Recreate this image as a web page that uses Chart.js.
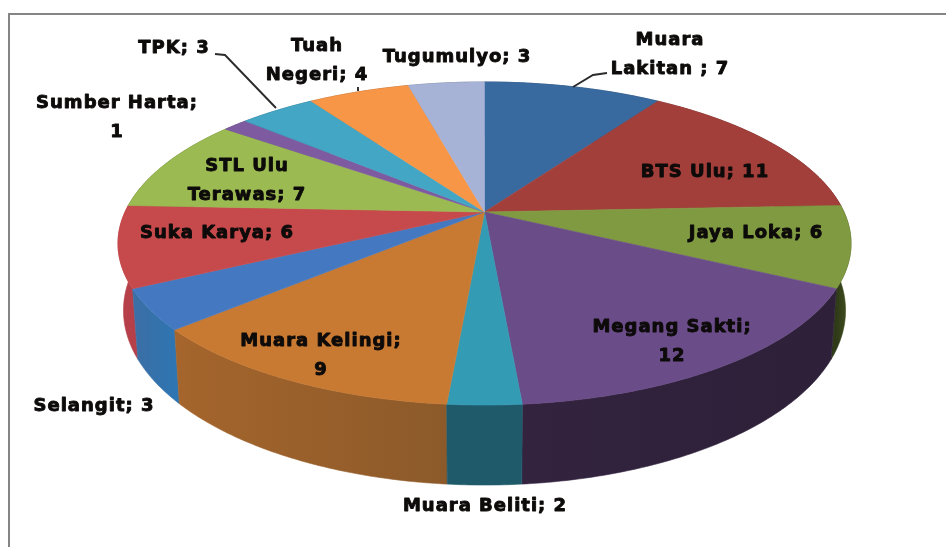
<!DOCTYPE html>
<html>
<head>
<meta charset="utf-8">
<style>
html,body{margin:0;padding:0;background:#fff;overflow:hidden}
#wrap{position:relative;width:946px;height:547px}
#frame{position:absolute;left:8px;top:13px;right:0;bottom:-4px;border-top:2px solid #858585;border-left:2px solid #858585}
canvas{position:absolute;left:0;top:0;filter:blur(0.7px)}
</style>
<script src="https://cdn.jsdelivr.net/npm/chart.js@4"></script>
</head>
<body>
<div id="wrap"><div id="frame"></div><canvas id="c" width="946" height="547"></canvas></div>
<script>
const categories = ['Muara Lakitan ','BTS Ulu','Jaya Loka','Megang Sakti','Muara Beliti','Muara Kelingi','Selangit','Suka Karya','STL Ulu Terawas','Sumber Harta','TPK','Tuah Negeri','Tugumulyo'];
const values = [7,11,6,12,2,9,3,6,7,1,3,4,3];
const topColors = ['#396A9F','#A23F3B','#7F9A40','#6A4C88','#349BB5','#C97A32','#4479C2','#C64A4C','#9BBB52','#7E5BA0','#42A6C4','#F79646','#A6B2D6'];
const wallLeft  = ['#24405F','#622725','#2F3A18','#33233F','#1F5A6B','#A5652C','#3C6EA4','#B5404A','#5E7232','#4C3761','#286476','#95592A','#646B81'];
const wallRight = ['#24405F','#622725','#46551F','#2D2038','#1F5A6B','#8C5A2A','#2F75B2','#B5404A','#5E7232','#4C3761','#286476','#95592A','#646B81'];
const wrapAfter = ['Muara','','','Megang Sakti;','','Muara Kelingi;','','','STL Ulu','Sumber Harta;','','Tuah',''];
const labelCentres = [[670,40],[705,172],[756,233],[672,327],[485,506],[321,341],[94,406],[217,233],[247,166],[117,103],[174,48],[317,46],[457,57]];
const lineGap = 29;
const leaders = [[[607,73],[593,75],[573,87]],[[215,54],[225,55],[276,108]],[[358,87],[358,91]]];

const view = {cx:484.5, cy:212, rx:359.5, ry:155.4, k:0.195, depth:64.4, baseScale:0.985};

function project(a, down){
  const u=Math.cos(a), v=Math.sin(a), w=1-view.k*v, s=down?view.baseScale:1;
  return [view.cx+s*view.rx*u/w, view.cy+view.ry*v/w+(down?view.depth/w:0)];
}
function arcPts(a0,a1,down){
  const n=Math.max(2,Math.ceil((a1-a0)/0.01)), p=[];
  for(let i=0;i<=n;i++) p.push(project(a0+(a1-a0)*i/n,down));
  return p;
}
const pie3d = {
  id:'pie3d',
  beforeDatasetsDraw(chart){
    const ctx=chart.ctx, arcs=chart.getDatasetMeta(0).data;
    // side walls, far ones first
    const order=arcs.map((e,i)=>i).sort((p,q)=>{
      const m=e=>Math.sin((e.startAngle+e.endAngle)/2);
      return m(arcs[p])-m(arcs[q]);
    });
    order.forEach(i=>{
      const e=arcs[i], top=arcPts(e.startAngle,e.endAngle,false), bot=arcPts(e.startAngle,e.endAngle,true).reverse();
      const xs=top.map(p=>p[0]), g=ctx.createLinearGradient(Math.min(...xs),0,Math.max(...xs),0);
      g.addColorStop(0,wallLeft[i]); g.addColorStop(1,wallRight[i]);
      ctx.beginPath();
      top.concat(bot).forEach((p,j)=>j?ctx.lineTo(p[0],p[1]):ctx.moveTo(p[0],p[1]));
      ctx.closePath(); ctx.fillStyle=g; ctx.strokeStyle=g; ctx.lineWidth=0.6; ctx.fill(); ctx.stroke();
    });
    // top face
    arcs.forEach((e,i)=>{
      ctx.beginPath(); ctx.moveTo(view.cx,view.cy);
      arcPts(e.startAngle,e.endAngle,false).forEach(p=>ctx.lineTo(p[0],p[1]));
      ctx.closePath(); ctx.fillStyle=topColors[i]; ctx.strokeStyle=topColors[i]; ctx.lineWidth=0.6;
      ctx.fill(); ctx.stroke();
    });
    // leader lines
    ctx.strokeStyle='#2b2b2b'; ctx.lineWidth=1.9;
    leaders.forEach(l=>{ctx.beginPath();l.forEach((p,j)=>j?ctx.lineTo(p[0],p[1]):ctx.moveTo(p[0],p[1]));ctx.stroke();});
    // labels
    ctx.font='bold 18px "DejaVu Sans"'; ctx.letterSpacing='1px';
    ctx.textAlign='center'; ctx.textBaseline='middle'; ctx.fillStyle='#0d0a0a';
    ctx.strokeStyle='#0d0a0a'; ctx.lineWidth=0.9; ctx.lineJoin='round';
    categories.forEach((name,i)=>{
      const text=name+'; '+values[i], b=wrapAfter[i];
      const lines=b?[b,text.slice(b.length).trim()]:[text];
      lines.forEach((t,j)=>{
        ctx.strokeText(t,labelCentres[i][0],labelCentres[i][1]+j*lineGap);
        ctx.fillText(t,labelCentres[i][0],labelCentres[i][1]+j*lineGap);
      });
    });
    ctx.letterSpacing='0px';
    return false;
  }
};
new Chart(document.getElementById('c'),{
  type:'pie',
  data:{labels:categories,datasets:[{data:values,backgroundColor:topColors,borderWidth:0}]},
  options:{responsive:false,animation:false,events:[],plugins:{legend:{display:false},tooltip:{enabled:false}}},
  plugins:[pie3d]
});
</script>
</body>
</html>
